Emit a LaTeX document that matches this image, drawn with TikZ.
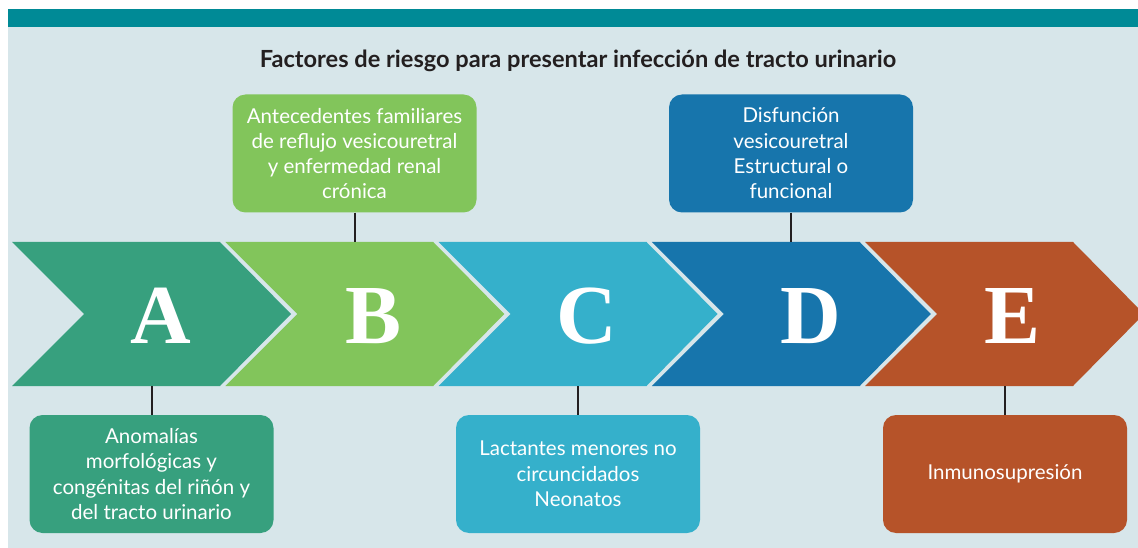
\documentclass[tikz,border=0pt]{standalone}
\usepackage{fontspec}
\setmainfont{Lato}
\newfontfamily\letterfont{Liberation Serif}
\definecolor{bgc}{HTML}{D7E6EA}
\definecolor{barc}{HTML}{008A96}
\definecolor{ca}{HTML}{37A07E}
\definecolor{cb}{HTML}{82C55B}
\definecolor{cc}{HTML}{35B0CB}
\definecolor{cd}{HTML}{1775AC}
\definecolor{ce}{HTML}{B65329}
\definecolor{titlec}{HTML}{231F20}
\tikzset{
  infobox/.style={rounded corners=13pt, minimum width=244pt, minimum height=118pt,
    inner sep=0pt, text=white, align=center, font=\fontsize{20.5}{25.3}\selectfont},
  bigletter/.style={text=white, anchor=base, inner sep=0pt,
    font=\letterfont\bfseries\fontsize{84}{84}\selectfont},
  conn/.style={draw=titlec, line width=2pt},
  titletext/.style={text=titlec, anchor=base, font=\bfseries\fontsize{23.6}{26}\selectfont}
}
\begin{document}
\begin{tikzpicture}[x=1pt,y=-1pt]
\useasboundingbox (0,0) rectangle (1138,548);
\fill[white] (0,0) rectangle (1138,548);
\fill[bgc] (8,27) rectangle (1138,548);
\fill[barc] (8,9) rectangle (1138,27);

\node[titletext] (title) at (578,68) {Factores de riesgo para presentar infección de tracto urinario};

% chevrons
\foreach \c [count=\i from 0] in {ca,cb,cc,cd,ce} {
  \pgfmathsetmacro\L{12+213.25*\i}
  \fill[\c] (\L,242) -- ++(208,0) -- ++(71,72) -- ++(-71,72) -- (\L,386) -- ++(72,-72) -- cycle;
}

% letters
\node[bigletter] (A) at (161,343) {A};
\node[bigletter] (B) at (374,343) {B};
\node[bigletter] (C) at (587,343) {C};
\node[bigletter] (D) at (811,343) {D};
\node[bigletter] (E) at (1013,343) {E};

% attach points on chevrons
\coordinate (Abot) at (151.5,386);
\coordinate (Btop) at (354.5,242);
\coordinate (Cbot) at (578,386);
\coordinate (Dtop) at (791,242);
\coordinate (Ebot) at (1005,386);

% boxes
\node[infobox, fill=cb] (boxB) at (354.5,153.5) {Antecedentes familiares\\de reflujo vesicouretral\\y enfermedad renal\\crónica};
\node[infobox, fill=cd] (boxD) at (791,153.5) {Disfunción\\vesicouretral\\Estructural o\\funcional};
\node[infobox, fill=ca] (boxA) at (151.5,474) {Anomalías\\morfológicas y\\congénitas del riñón y\\del tracto urinario};
\node[infobox, fill=cc] (boxC) at (578,474) {Lactantes menores no\\circuncidados\\Neonatos};
\node[infobox, fill=ce] (boxE) at (1005,474) {Inmunosupresión};

% connectors
\draw[conn] (boxB.south) -- (Btop);
\draw[conn] (boxD.south) -- (Dtop);
\draw[conn] (boxA.north) -- (Abot);
\draw[conn] (boxC.north) -- (Cbot);
\draw[conn] (boxE.north) -- (Ebot);
\end{tikzpicture}
\end{document}
